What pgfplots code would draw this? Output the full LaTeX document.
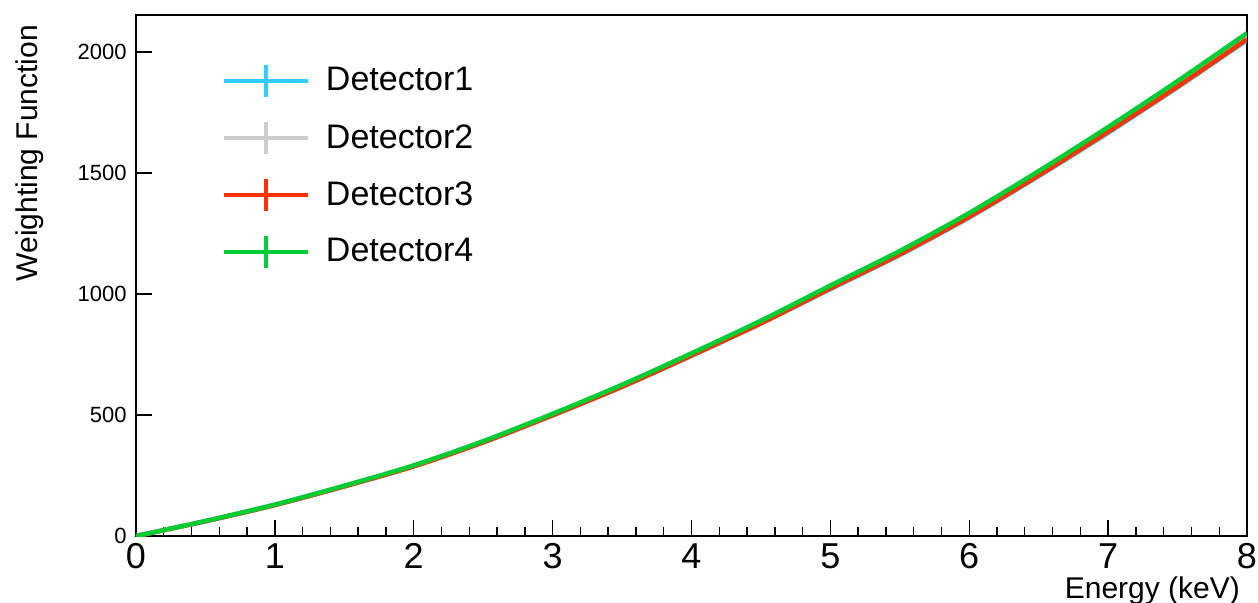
\documentclass[border=0pt]{standalone}
\usepackage{fontspec}
\setmainfont{Liberation Sans}
\usepackage{pgfplots}
\pgfplotsset{compat=1.18}
\definecolor{det1}{RGB}{51,204,255}
\definecolor{det2}{RGB}{204,204,204}
\definecolor{det3}{RGB}{255,51,0}
\definecolor{det4}{RGB}{0,204,51}
\begin{document}
\begin{tikzpicture}
\path[use as bounding box] (-68pt,-33pt) rectangle (561pt,268pt);
\begin{axis}[
  at={(0pt,0pt)}, anchor=south west,
  scale only axis, width=555.5pt, height=260.5pt,
  xmin=0, xmax=8, ymin=0, ymax=2153,
  xtick={0,1,...,8}, minor x tick num=4,
  ytick={0,500,1000,1500,2000},
  tick pos=left, tick align=inside,
  major tick length=8pt, minor tick length=4.5pt,
  axis line style={line width=0.8pt},
  every tick/.style={black, line width=0.7pt},
  /pgf/number format/assume math mode=true,
  /pgf/number format/set thousands separator={},
  scaled y ticks=false,
  xticklabel style={font=\fontsize{18}{20}\selectfont, inner sep=0pt, yshift=-3.5pt},
  yticklabel style={font=\fontsize{11}{13}\selectfont, inner sep=0pt, xshift=-4.5pt},
  every axis x label/.style={at={(axis description cs:1,-0.119)}, anchor=base east, font=\fontsize{15}{17}\selectfont},
  every axis y label/.style={at={(axis description cs:-0.0891,0.9942)}, anchor=base east, rotate=90, font=\fontsize{15}{17}\selectfont},
  xlabel={Energy (keV)},
  ylabel={Weighting Function},
  legend cell align=left,
  legend image code/.code={
    \draw[#1,line width=2pt] (0pt,0pt) -- (42pt,0pt);
    \draw[#1,line width=2pt] (21pt,-8pt) -- (21pt,8pt);
  },
  legend style={draw=none, fill=none, at={(axis description cs:0.0774,0.9083)}, anchor=north west,
    inner sep=0pt, outer sep=0pt, row sep=10.5pt, column sep=8pt,
    font=\fontsize{17}{19}\selectfont,
    nodes={inner sep=0pt}},
]
\addplot[det1, line width=2.25pt, smooth] coordinates {
(0,0) (0.5,61) (1,128) (1.5,205) (2,288) (2.5,387) (3,498) (3.5,616) (4,744)
(4.5,878) (5,1020) (5.5,1161) (6,1316) (6.5,1487) (7,1666) (7.5,1854) (8,2049)
};
\addlegendentry{Detector1}
\addplot[det2, line width=2.25pt, smooth] coordinates {
(0,0) (0.5,62) (1,129) (1.5,207) (2,290) (2.5,389) (3,501) (3.5,621) (4,750)
(4.5,884) (5,1028) (5.5,1170) (6,1326) (6.5,1497) (7,1678) (7.5,1867) (8,2063)
};
\addlegendentry{Detector2}
\addplot[det3, line width=2.25pt, smooth] coordinates {
(0,0) (0.5,61) (1,128) (1.5,205) (2,288) (2.5,387) (3,499) (3.5,617) (4,746)
(4.5,879) (5,1023) (5.5,1164) (6,1319) (6.5,1490) (7,1670) (7.5,1857) (8,2053)
};
\addlegendentry{Detector3}
\addplot[det4, line width=2.25pt, smooth] coordinates {
(0,0) (0.5,62) (1,130) (1.5,208) (2,292) (2.5,392) (3,505) (3.5,625) (4,755)
(4.5,890) (5,1035) (5.5,1178) (6,1335) (6.5,1508) (7,1690) (7.5,1880) (8,2078)
};
\addlegendentry{Detector4}
\end{axis}
\end{tikzpicture}
\end{document}
